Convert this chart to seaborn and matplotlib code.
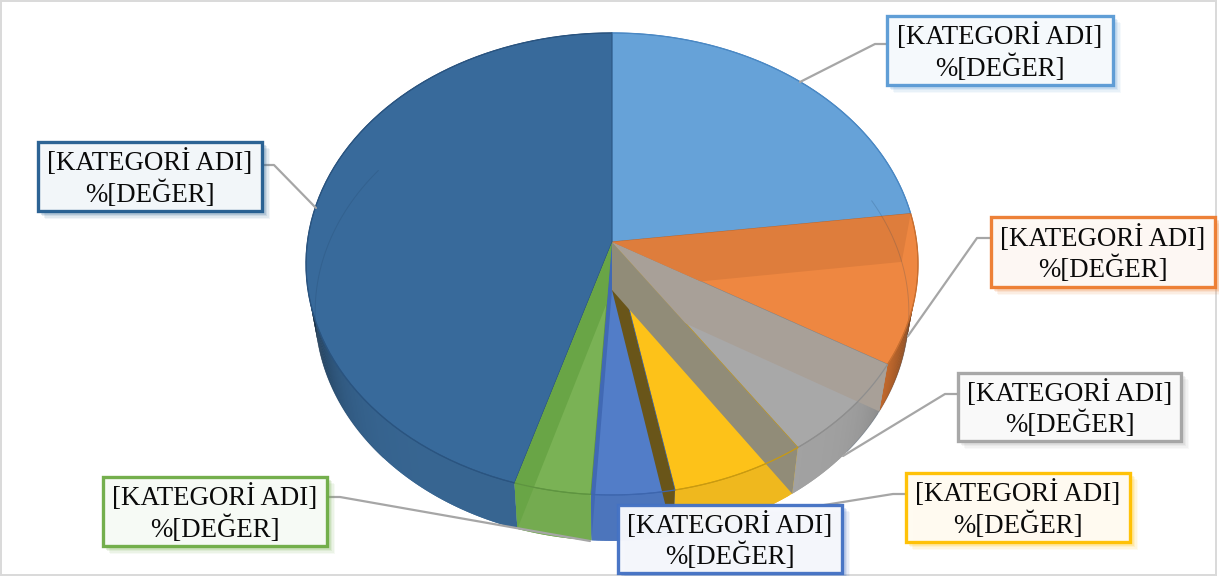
import numpy as np
import matplotlib
matplotlib.use("Agg")
import matplotlib.pyplot as plt
from matplotlib.patches import Polygon, Rectangle
import seaborn as sns

# slice shares in percent, clockwise from 12 o'clock
values = [23.0, 10.5, 7.0, 6.5, 4.0, 3.7, 45.3]
label_text = "[KATEGORİ ADI]\n%[DEĞER]"

top_colors = ["#66A2D8", "#EE8741", "#A8A8A8", "#FDC219", "#527DC8", "#7AB255", "#386A9B"]
side_colors = ["#5B93C8", "#E07A35", "#A2A2A2", "#EFB81E", "#4C75BC", "#74AB50", "#376591"]
border_colors = ["#5B9BD5", "#ED7D31", "#A5A5A5", "#FFC000", "#4472C4", "#70AD47", "#255E91"]
# inner walls seen through the glassy top, boundary i sits between slice i and i+1
wall_colors = ["#DE7D3C", "#A8A098", "#918C78", "#695519", "#4169B4", "#69A546"]
line_colors = ["#4A88C4", "#C96F30", "#8E8E8E", "#C99A10", "#3D66AE", "#5E9440", "#2A5480"]

# label boxes: x0, y0, x1, y1 in pixels, then the leader line points
boxes = [(887, 16, 1113, 85), (991, 217, 1215, 287), (958, 373, 1181, 441), (906, 473, 1130, 542),
         (618, 505, 842, 573), (103, 477, 327, 546), (38, 142, 262, 211)]
leaders = [[(887, 44), (875, 44), (800, 82)],
           [(991, 238), (977, 238), (908, 336)],
           [(958, 394), (945, 394), (843, 456)],
           [(906, 494), (893, 494), (793, 510)],
           [],
           [(327, 497), (340, 497), (590, 541)],
           [(262, 165), (274, 165), (316, 208)]]

# pie geometry
P = 0.095
TOP = (612, 242, 304.6, 228.9)
BOTTOM = (612, 290, 295.5, 227)


def project(theta, geom):
    cx, cy, rx, ry = geom
    w = 1 + P * np.cos(theta)
    return np.column_stack([cx + rx * np.sin(theta) / w, cy - ry * np.cos(theta) / w])


def shade(color, factor):
    r, g, b = matplotlib.colors.to_rgb(color)
    return (r * factor, g * factor, b * factor)


sns.set_theme(style="white")
plt.rcParams['font.family'] = ['Liberation Serif', 'DejaVu Serif']

palette = sns.color_palette(top_colors)
side_palette = sns.color_palette(side_colors)
border_palette = sns.color_palette(border_colors)
edges = np.concatenate([[0], np.cumsum(values) / np.sum(values) * 2 * np.pi])

fig = plt.figure(figsize=(12.19, 5.76), dpi=100)
ax = fig.add_axes([0, 0, 1, 1])
ax.set_xlim(0, 1219)
ax.set_ylim(576, 0)
ax.axis('off')
ax.add_patch(Rectangle((0.5, 0.5), 1215, 574.5, fc='white', ec='#D9D9D9', lw=1.4, zorder=0))

top_apex = project(np.array([np.pi / 2]), (TOP[0], TOP[1], 0, 0))[0]
bot_apex = project(np.array([np.pi / 2]), (BOTTOM[0], BOTTOM[1], 0, 0))[0]

# outer side walls, overlapping strips so the shading runs along the arc without seams
for i in range(len(values)):
    steps = np.linspace(edges[i], edges[i + 1], max(4, int((edges[i + 1] - edges[i]) * 90)))
    upper = project(steps, TOP)
    lower = project(steps, BOTTOM)
    for j in range(len(steps) - 1):
        f = 1 - 0.6 * abs(np.sin(steps[j])) ** 10
        end = min(j + 2, len(steps) - 1)
        quad = [upper[j], upper[end], lower[end], lower[j]]
        ax.add_patch(Polygon(quad, fc=shade(side_palette[i], f), ec='none', zorder=2))

# top faces
for i in range(len(values)):
    steps = np.linspace(edges[i], edges[i + 1], 80)
    pts = np.vstack([top_apex, project(steps, TOP)])
    ax.add_patch(Polygon(pts, fc=palette[i], ec=line_colors[i], lw=0.7, zorder=3))

# inner walls, front ones painted first so the later ones sit over them
for k in [5, 4, 3, 2, 1, 0]:
    edge = edges[k + 1]
    rim_top = project(np.array([edge]), TOP)[0]
    rim_bot = project(np.array([edge]), BOTTOM)[0]
    wall = Polygon([top_apex, rim_top, rim_bot, bot_apex], fc=wall_colors[k], ec='none', zorder=4 + (5 - k) * 0.1)
    ax.add_patch(wall)
    if k == 2:
        continue
    # clip to the slice the wall is seen through
    side = k + 1 if edge < np.pi else k
    a = project(np.array([edges[side]]), TOP)[0]
    b = project(np.array([edges[side + 1]]), TOP)[0]
    wedge = Polygon([top_apex, top_apex + 1.6 * (a - top_apex), top_apex + 1.6 * (b - top_apex)],
                    transform=ax.transData)
    wall.set_clip_path(wedge)

# faint rim lines through the glass, only the flanks show in the original
for lo, hi in [(1.15, 2.3), (3.95, 5.3)]:
    rim = project(np.linspace(lo, hi, 120), BOTTOM)
    ax.plot(rim[:, 0], rim[:, 1], color='#1F3F60', lw=0.7, alpha=0.2, zorder=5)
for i in range(len(values)):
    steps = np.linspace(edges[i], edges[i + 1], 80)
    arc = project(steps, TOP)
    ax.plot(arc[:, 0], arc[:, 1], color=line_colors[i], lw=0.9, zorder=5)

# leader lines
for pts in leaders:
    if pts:
        xs, ys = zip(*pts)
        ax.plot(xs, ys, color='#A6A6A6', lw=1.6, zorder=6, solid_capstyle='round')

# callout boxes with a soft shadow
for i, (x0, y0, x1, y1) in enumerate(boxes):
    for off, a in [(8, 0.06), (6.5, 0.08), (5, 0.11), (3.5, 0.16), (2, 0.22)]:
        ax.add_patch(Rectangle((x0 + off - 1, y0 + off - 1), x1 - x0 + 1, y1 - y0 + 1, fc=border_palette[i],
                               ec='none', alpha=a, zorder=7))
    tint = np.array(border_palette[i]) * 0.04 + 0.96
    ax.add_patch(Rectangle((x0, y0), x1 - x0, y1 - y0, fc=tint, ec=border_palette[i], lw=2.4, alpha=0.97, zorder=8))
    ax.text((x0 + x1) / 2, (y0 + y1) / 2 + 2, label_text, ha='center', va='center', fontsize=19.4,
            linespacing=1.18, color='#0A0A0A', zorder=9)

plt.savefig("out.png", dpi=100)
